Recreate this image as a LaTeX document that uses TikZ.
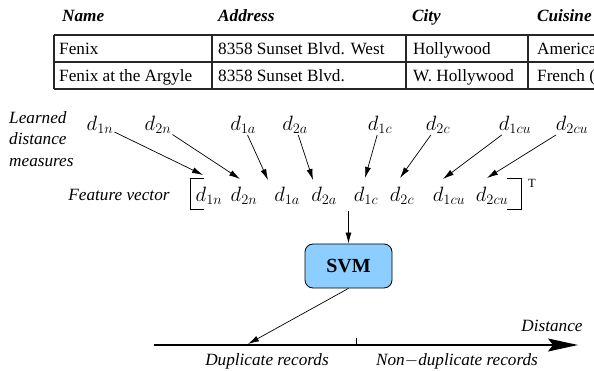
\documentclass[tikz,border=0pt]{standalone}
\usepackage[no-math]{fontspec}
\setmainfont{Liberation Serif}
\usetikzlibrary{arrows.meta,calc}
\definecolor{svmblue}{RGB}{140,206,255}
\begin{document}
\begin{tikzpicture}[x=1pt,y=-1pt,
  hdr/.style={font=\fontsize{17.2}{21.5}\selectfont\bfseries\itshape, inner sep=0pt, anchor=base west},
  cell/.style={font=\fontsize{17.2}{21.5}\selectfont, inner sep=0pt, anchor=base west},
  lbl/.style={font=\fontsize{17.2}{21.5}\selectfont\itshape, inner sep=0pt},
  dv/.style={font=\fontsize{19.5}{23}\selectfont, inner sep=1pt},
  tline/.style={line width=1.1pt, black!85},
  arr/.style={-{Latex[length=11pt,width=6pt]}, line width=0.7pt},
  brk/.style={line width=0.8pt},
  svmbox/.style={draw, line width=0.8pt, fill=svmblue, rounded corners=8pt, minimum width=87pt, minimum height=44pt, inner sep=0pt, font=\fontsize{20}{24}\selectfont\bfseries},
  ]
\useasboundingbox (0,0) rectangle (594,371);
\clip (0,0) rectangle (594,371);

% table
\draw[tline] (54,35) -- (620,35);
\draw[tline] (54,62) -- (620,62);
\draw[tline] (54,89) -- (620,89);
\foreach \x in {54,212,406,528} \draw[tline] (\x,35) -- (\x,89);

\node[hdr] (hname) at (62,22) {Name};
\node[hdr] (haddr) at (218,22) {Address};
\node[hdr] (hcity) at (412,22) {City};
\node[hdr] (hcuis) at (537,22) {Cuisine};

\node[cell] (r1a) at (59,55) {Fenix};
\node[cell] (r1b) at (218,55) {8358 Sunset Blvd. West};
\node[cell] (r1c) at (413,55) {Hollywood};
\node[cell] (r1d) at (537,55) {American};
\node[cell] (r2a) at (59,82) {Fenix at the Argyle};
\node[cell] (r2b) at (218,82) {8358 Sunset Blvd.};
\node[cell] (r2c) at (413,82) {W. Hollywood};
\node[cell] (r2d) at (537,82) {French (new)};

% left label
\node[lbl, align=left, anchor=north west] (learned) at (9,111) {Learned\\distance\\measures};

% top distance measures
\node[dv] (t1) at (100,125) {$d_{1n}$};
\node[dv] (t2) at (158,125) {$d_{2n}$};
\node[dv] (t3) at (243,125) {$d_{1a}$};
\node[dv] (t4) at (295,125) {$d_{2a}$};
\node[dv] (t5) at (380,125) {$d_{1c}$};
\node[dv] (t6) at (438,125) {$d_{2c}$};
\node[dv] (t7) at (515,125) {$d_{1cu}$};
\node[dv] (t8) at (572,125) {$d_{2cu}$};

% feature vector
\node[lbl] (fvl) at (119,195) {Feature vector};
\node[dv] (f1) at (209,196) {$d_{1n}$};
\node[dv] (f2) at (244,196) {$d_{2n}$};
\node[dv] (f3) at (287,196) {$d_{1a}$};
\node[dv] (f4) at (324,196) {$d_{2a}$};
\node[dv] (f5) at (366,196) {$d_{1c}$};
\node[dv] (f6) at (402,196) {$d_{2c}$};
\node[dv] (f7) at (449,196) {$d_{1cu}$};
\node[dv] (f8) at (492,196) {$d_{2cu}$};
\draw[brk] (204,178) -- (190,178) -- (190,209) -- (204,209);
\draw[brk] (507,178) -- (521,178) -- (521,209) -- (507,209);
\node[font=\fontsize{12.5}{14}\selectfont, inner sep=0pt] (T) at (532,183) {T};

% arrow ends
\coordinate (e1) at (203,175);
\coordinate (e2) at (240,179);
\coordinate (e3) at (268,180);
\coordinate (e4) at (313,180);
\coordinate (e5) at (365,178);
\coordinate (e6) at (400,178);
\coordinate (e7) at (443,179);
\coordinate (e8) at (487,178);
\foreach \i in {1,...,8} \draw[arr] (t\i) -- (e\i);

% SVM
\node[svmbox] (svm) at (348.5,266) {SVM};
\coordinate (v0) at (348.5,211);
\draw[arr] (v0) -- (svm.north);

% axis
\coordinate (a0) at (154,345);
\coordinate (a1) at (578,345);
\coordinate (dup) at (248,344);
\draw[line width=1.5pt, -{Stealth[length=30pt,width=13pt,inset=5pt]}] (a0) -- (a1);
\draw[line width=0.7pt] (356,345) -- (356,338);
\draw[arr] (svm.south) -- (dup);

\node[lbl] (dist) at (552,326) {Distance};
\node[lbl] (dupl) at (267,361) {Duplicate records};
\node[lbl] (nondup) at (457,361) {Non$-$duplicate records};
\end{tikzpicture}
\end{document}
